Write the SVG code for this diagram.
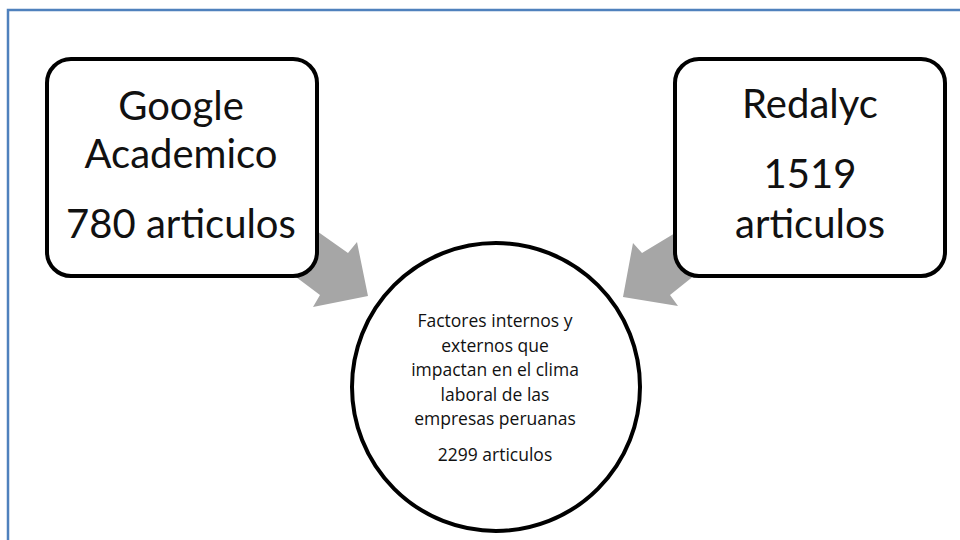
<svg xmlns="http://www.w3.org/2000/svg" width="960" height="540" viewBox="0 0 960 540">
<style>
.frame{fill:none;stroke:#4f81bd;stroke-width:2.5}
.box{fill:#fff;stroke:#000;stroke-width:4}
.arrow{fill:#a6a6a6;stroke:none}
.big{font-family:Lato,"Open Sans",sans-serif;font-size:40px;fill:#111;text-anchor:middle}
.small{font-family:"Open Sans",Lato,sans-serif;font-size:17.5px;fill:#111;text-anchor:middle}
</style>
<rect width="960" height="540" fill="#fff"/>
<path class="frame" d="M8,540 V10 H960"/>
<g id="connectors">
<polygon class="arrow" points="280,205 348,253 357,242 368,296 313,307 320,295 260,250"/>
<polygon class="arrow" points="700,218 642,253 633,243 623,297 678,306 670,295 720,255"/>
</g>
<g id="google">
<rect class="box" x="47" y="59" width="270" height="217" rx="24"/>
<text class="big" x="181" y="120">Google</text>
<text class="big" x="181" y="168">Academico</text>
<text class="big" x="181" y="238">780 articulos</text>
</g>
<g id="redalyc">
<rect class="box" x="675" y="59" width="270" height="217" rx="24"/>
<text class="big" x="810" y="118">Redalyc</text>
<text class="big" x="810" y="188">1519</text>
<text class="big" x="810" y="238">articulos</text>
</g>
<g id="total">
<circle class="box" cx="496" cy="387" r="144"/>
<text class="small" x="495" y="327">Factores internos y</text>
<text class="small" x="495" y="351.5">externos que</text>
<text class="small" x="495" y="376">impactan en el clima</text>
<text class="small" x="495" y="400.5">laboral de las</text>
<text class="small" x="495" y="425">empresas peruanas</text>
<text class="small" x="495" y="461">2299 articulos</text>
</g>
</svg>
